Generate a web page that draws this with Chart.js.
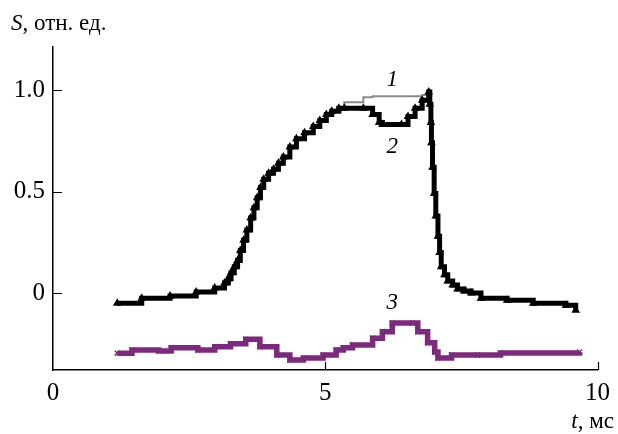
<!DOCTYPE html>
<html>
<head>
<meta charset="utf-8">
<script src="https://cdn.jsdelivr.net/npm/chart.js@4"></script>
<style>
  html, body { margin: 0; padding: 0; background: #fff; }
  canvas { display: block; }
</style>
</head>
<body>
<canvas id="chart" width="618" height="434"></canvas>
<script>
// time axis, ms
const xTicks = [0, 5, 10];
const yTicks = [0, 0.5, 1.0];

// curves 1 and 2 share the time points
const t12 = [1.18, 1.63, 2.15, 2.63, 2.97, 3.15, 3.22, 3.27, 3.33, 3.39, 3.44, 3.50, 3.56, 3.63, 3.69,
  3.75, 3.81, 3.87, 3.96, 4.05, 4.14, 4.23, 4.35, 4.47, 4.62, 4.78, 4.90, 5.02, 5.12, 5.25,
  5.35, 5.70, 5.87, 5.99, 6.05, 6.40, 6.52, 6.65, 6.78, 6.90, 6.92, 6.94, 6.95, 6.97, 7.00,
  7.03, 7.07, 7.10, 7.13, 7.19, 7.25, 7.34, 7.43, 7.55, 7.68, 7.86, 8.34, 8.82, 9.42, 9.60];
const s2 = [-0.05, -0.025, -0.015, 0.005, 0.025, 0.05, 0.07, 0.10, 0.13, 0.16, 0.21, 0.26, 0.31, 0.37, 0.42,
  0.47, 0.52, 0.56, 0.59, 0.61, 0.64, 0.67, 0.72, 0.76, 0.79, 0.82, 0.85, 0.88, 0.895, 0.91,
  0.91, 0.91, 0.88, 0.84, 0.83, 0.83, 0.87, 0.91, 0.95, 0.99, 0.93, 0.84, 0.74, 0.62, 0.49,
  0.38, 0.28, 0.20, 0.13, 0.09, 0.06, 0.04, 0.02, 0.01, 0.0, -0.025, -0.035, -0.05, -0.06, -0.085];
const s1 = [-0.05, -0.025, -0.015, 0.005, 0.025, 0.05, 0.07, 0.10, 0.13, 0.16, 0.21, 0.26, 0.31, 0.37, 0.42,
  0.47, 0.52, 0.56, 0.59, 0.61, 0.64, 0.67, 0.72, 0.76, 0.79, 0.82, 0.85, 0.88, 0.895, 0.91,
  0.94, 0.965, 0.97, 0.97, 0.97, 0.97, 0.97, 0.97, 0.975, 1.0, 0.93, 0.84, 0.74, 0.62, 0.49,
  0.38, 0.28, 0.20, 0.13, 0.09, 0.06, 0.04, 0.02, 0.01, 0.0, -0.025, -0.035, -0.05, -0.06, -0.085];

// curve 3
const t3 = [1.18, 1.45, 1.94, 2.17, 2.66, 2.97, 3.26, 3.54, 3.80, 4.11, 4.35, 4.60, 4.96, 5.20, 5.33,
  5.50, 5.87, 6.05, 6.23, 6.60, 6.70, 6.88, 7.01, 7.07, 7.32, 7.80, 8.22, 9.67];
const s3 = [-0.296, -0.28, -0.285, -0.27, -0.28, -0.265, -0.25, -0.228, -0.265, -0.305, -0.33, -0.32, -0.305, -0.28, -0.27,
  -0.256, -0.222, -0.19, -0.148, -0.148, -0.19, -0.245, -0.29, -0.32, -0.305, -0.305, -0.295, -0.29];

const serif = '"Times New Roman", "Liberation Serif", Times, serif';
const purple = '#7d2a7e';

function pts(xs, ys) { return xs.map((x, i) => ({ x: x, y: ys[i] })); }

// inward tick marks, axis titles and curve numbers
const extras = {
  id: 'extras',
  afterDraw(chart) {
    const c = chart.ctx, xs = chart.scales.x, ys = chart.scales.y, a = chart.chartArea;
    c.save();
    c.strokeStyle = '#000';
    c.lineWidth = 1.2;
    c.beginPath();
    xTicks.forEach(v => {
      if (v === 0) return;
      const px = Math.round(xs.getPixelForValue(v)) + 0.5;
      c.moveTo(px, a.bottom); c.lineTo(px, a.bottom - 8);
    });
    yTicks.forEach(v => {
      const py = Math.round(ys.getPixelForValue(v)) + 0.5;
      c.moveTo(a.left, py); c.lineTo(a.left + 9, py);
    });
    c.stroke();

    c.fillStyle = '#000';
    c.textBaseline = 'alphabetic';
    c.textAlign = 'left';
    c.font = 'italic 23px ' + serif;
    c.fillText('S', 11, 30);
    let w = c.measureText('S').width;
    c.font = '23px ' + serif;
    c.fillText(', отн. ед.', 11 + w, 30);

    c.font = '23px ' + serif;
    const tail = ', мс';
    const tw = c.measureText(tail).width;
    c.fillText(tail, 614 - tw, 428);
    c.font = 'italic 23px ' + serif;
    c.textAlign = 'right';
    c.fillText('t', 614 - tw, 428);

    c.textAlign = 'center';
    c.textBaseline = 'middle';
    c.font = 'italic 23px ' + serif;
    c.fillText('1', xs.getPixelForValue(6.23), ys.getPixelForValue(1.05));
    c.fillText('2', xs.getPixelForValue(6.23), ys.getPixelForValue(0.72));
    c.fillText('3', xs.getPixelForValue(6.23), ys.getPixelForValue(-0.05));
    c.restore();
  }
};

new Chart(document.getElementById('chart').getContext('2d'), {
  type: 'line',
  data: {
    datasets: [
      {
        label: '1',
        data: pts(t12, s1),
        borderColor: '#8a8a8a',
        borderWidth: 2,
        stepped: true,
        pointRadius: 0,
        order: 2
      },
      {
        label: '2',
        data: pts(t12, s2),
        borderColor: '#000',
        borderWidth: 5,
        stepped: true,
        pointStyle: 'triangle',
        pointRadius: 5,
        pointBackgroundColor: '#000',
        pointBorderWidth: 0,
        order: 1
      },
      {
        label: '3',
        data: pts(t3, s3),
        borderColor: purple,
        borderWidth: 5.5,
        stepped: true,
        pointStyle: 'crossRot',
        pointRadius: 3.5,
        pointBorderColor: purple,
        pointBorderWidth: 1.5,
        order: 0
      }
    ]
  },
  options: {
    responsive: false,
    animation: false,
    devicePixelRatio: 1,
    layout: { padding: { top: 47, right: 13, left: 0, bottom: 0 } },
    plugins: { legend: { display: false }, tooltip: { enabled: false } },
    scales: {
      x: {
        type: 'linear',
        min: 0,
        max: 10,
        afterBuildTicks: s => { s.ticks = xTicks.map(v => ({ value: v })); },
        afterFit: s => { s.height = 64; },
        grid: { display: false, drawTicks: false },
        border: { display: true, color: '#000', width: 1.5 },
        ticks: { color: '#000', font: { family: serif, size: 25 }, padding: 8, maxRotation: 0,
          callback: v => String(v) }
      },
      y: {
        type: 'linear',
        min: -0.379,
        max: 1.212,
        afterBuildTicks: s => { s.ticks = yTicks.map(v => ({ value: v })); },
        afterFit: s => { s.width = 53; },
        grid: { display: false, drawTicks: false },
        border: { display: true, color: '#000', width: 1.5 },
        ticks: { color: '#000', font: { family: serif, size: 25 }, padding: 8,
          callback: v => (v === 0 ? '0' : v.toFixed(1)) }
      }
    }
  },
  plugins: [extras]
});
</script>
</body>
</html>
